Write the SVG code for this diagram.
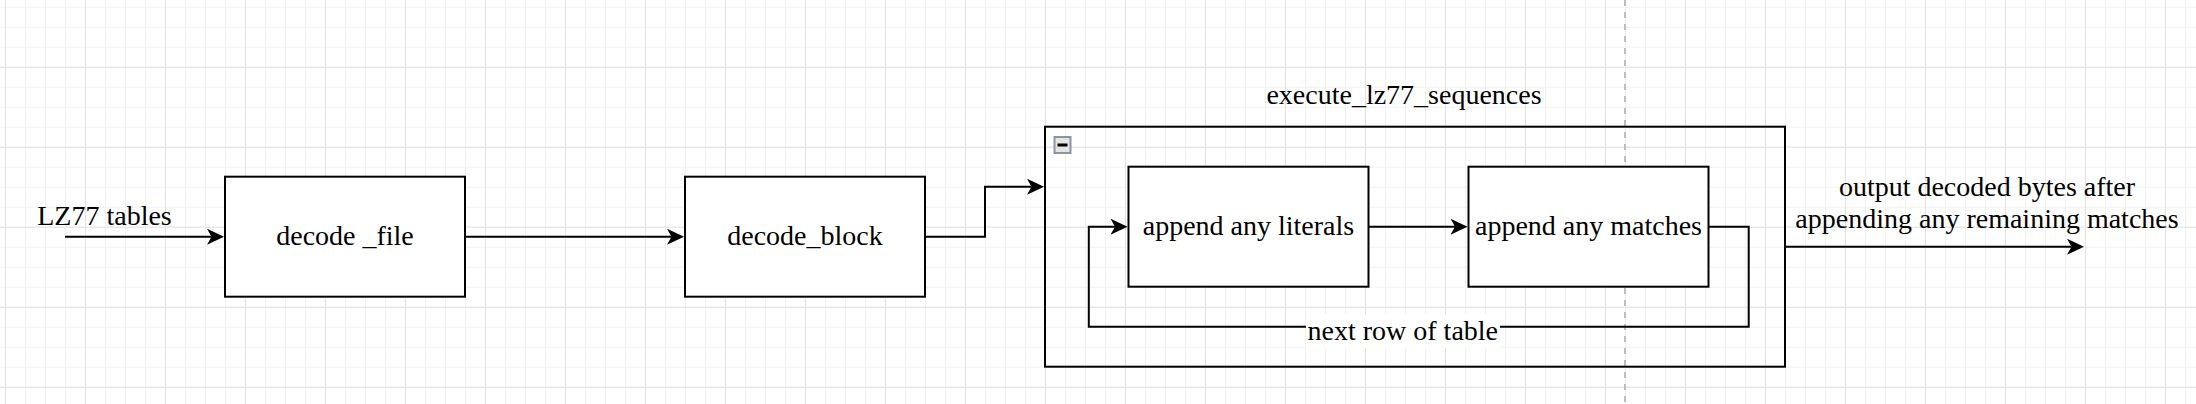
<svg xmlns="http://www.w3.org/2000/svg" width="2196" height="404" viewBox="0 0 2196 404">
<style>
.node{fill:#ffffff;stroke:#000000;stroke-width:2}
.cont{fill:none;stroke:#000000;stroke-width:2}
.edge{fill:none;stroke:#000000;stroke-width:2;marker-end:url(#arrow)}
.loop{fill:none;stroke:#000000;stroke-width:2}
.lbl{font-family:"Liberation Serif","Times New Roman",serif;font-size:28px;fill:#000000;text-anchor:middle}
</style>
<defs>
<pattern id="gMinor" patternUnits="userSpaceOnUse" x="5" y="6.7" width="20" height="20">
<path d="M0.5,0 V20 M0,0.5 H20" stroke="#f1f1f1" stroke-width="1" fill="none"/>
</pattern>
<pattern id="gMajor" patternUnits="userSpaceOnUse" x="5" y="6.7" width="80" height="80">
<path d="M0.5,0 V80 M0,60.5 H80" stroke="#e2e2e2" stroke-width="1" fill="none"/>
</pattern>
<marker id="arrow" markerUnits="userSpaceOnUse" markerWidth="20" markerHeight="20" refX="4.5" refY="8" orient="auto">
<path d="M0,0 L17,8 L0,16 L4.5,8 Z" fill="#000000"/>
</marker>
</defs>
<rect x="0" y="0" width="2196" height="404" fill="#ffffff"/>
<rect x="0" y="0" width="2196" height="404" fill="url(#gMinor)"/>
<rect x="0" y="0" width="2196" height="404" fill="url(#gMajor)"/>
<line x1="1625" y1="0" x2="1625" y2="404" stroke="#bdbdbd" stroke-width="2" stroke-dasharray="6 6"/>

<g id="container-execute_lz77_sequences">
<rect class="cont" x="1045" y="126.7" width="740" height="240"/>
<text class="lbl" x="1404" y="104">execute_lz77_sequences</text>
<rect x="1054.5" y="137" width="16" height="16" fill="#e4e4e4" stroke="#8b94a3" stroke-width="2"/>
<line x1="1057.5" y1="145" x2="1067.5" y2="145" stroke="#000000" stroke-width="3"/>
</g>

<g id="connectors">
<path class="edge" d="M65,236.7 H211.5"/>
<path class="edge" d="M465,236.7 H671.5"/>
<path class="edge" d="M925,236.7 H985 V186.7 H1031.5"/>
<path class="edge" d="M1368.5,226.7 H1455"/>
<path class="edge" d="M1708.5,226.7 H1748.7 V326.7 H1088.8 V226.7 H1115"/>
<path class="edge" d="M1785,246.7 H2071.5"/>
<rect x="1306" y="314" width="194" height="34" fill="#ffffff"/>
<text class="lbl" x="1402.8" y="340">next row of table</text>
<text class="lbl" x="104.5" y="225">LZ77 tables</text>
<text class="lbl" x="1987" y="196">output decoded bytes after</text>
<text class="lbl" x="1987" y="228">appending any remaining matches</text>
</g>

<g id="node-decode_file">
<rect class="node" x="225" y="176.7" width="240" height="120"/>
<text class="lbl" x="345" y="245">decode _file</text>
</g>

<g id="node-decode_block">
<rect class="node" x="685" y="176.7" width="240" height="120"/>
<text class="lbl" x="805" y="245">decode_block</text>
</g>

<g id="node-append_literals">
<rect class="node" x="1128.5" y="166.7" width="240" height="120"/>
<text class="lbl" x="1248.5" y="235">append any literals</text>
</g>

<g id="node-append_matches">
<rect class="node" x="1468.5" y="166.7" width="240" height="120"/>
<text class="lbl" x="1588.5" y="235">append any matches</text>
</g>
</svg>
